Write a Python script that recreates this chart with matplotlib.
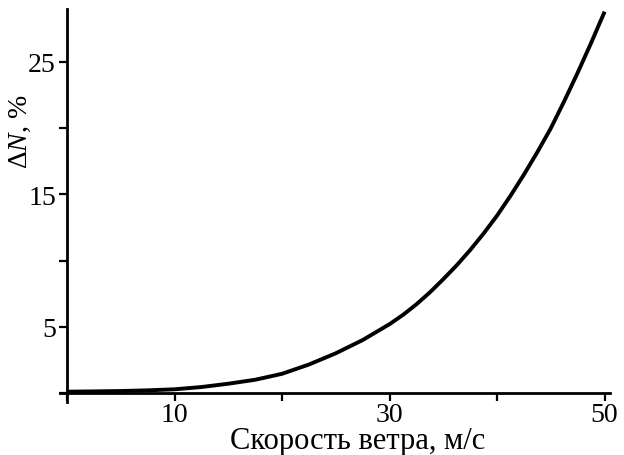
import matplotlib
matplotlib.use("Agg")
import matplotlib.pyplot as plt

# Data
wind_speed = [0, 2.5, 5, 7.5, 10, 12.5, 15, 17.5, 20, 22.5, 25, 27.5, 30,
              31.25, 32.5, 33.75, 35, 36.25, 37.5, 38.75, 40, 41.25, 42.5,
              43.75, 45, 46.25, 47.5, 48.75, 50]
delta_n = [0.1, 0.12, 0.15, 0.2, 0.28, 0.45, 0.7, 1.0, 1.45, 2.15, 3.0, 4.0, 5.2,
           5.9, 6.7, 7.6, 8.6, 9.65, 10.8, 12.05, 13.4, 14.9, 16.5,
           18.2, 20.0, 22.05, 24.2, 26.45, 28.8]

x_ticks = [0, 10, 20, 30, 40, 50]
x_ticklabels = ["", "10", "", "30", "", "50"]
y_ticks = [0, 5, 10, 15, 20, 25]
y_ticklabels = ["", "5", "", "15", "", "25"]

plt.rcParams['font.family'] = ['Liberation Serif', 'DejaVu Serif']
plt.rcParams['mathtext.fontset'] = 'custom'
plt.rcParams['mathtext.rm'] = 'Liberation Serif'
plt.rcParams['mathtext.it'] = 'Liberation Serif:italic'

fig = plt.figure(figsize=(6.24, 4.56), dpi=100)
ax = fig.add_axes([60/624, 53/456, 550/624, 393/456])

ax.plot(wind_speed, delta_n, color='black', lw=2.8, solid_joinstyle='round',
        solid_capstyle='butt')

ax.set_xlim(-0.65, 50.5)
ax.set_ylim(-0.68, 29.0)

for s in ['top', 'right']:
    ax.spines[s].set_visible(False)
ax.spines['left'].set_position(('data', 0))
ax.spines['bottom'].set_position(('data', 0))
for s in ['left', 'bottom']:
    ax.spines[s].set_linewidth(2.0)

ax.set_xticks(x_ticks)
ax.set_xticklabels(x_ticklabels)
ax.set_yticks(y_ticks)
ax.set_yticklabels(y_ticklabels)
ax.tick_params(axis='both', direction='out', length=6, width=1.6,
               labelsize=20, colors='black')
ax.tick_params(axis='x', pad=0.5)
ax.tick_params(axis='y', pad=2)

ax.set_xlabel("Скорость ветра, м/с", fontsize=22)
ax.xaxis.set_label_coords(0.542, -0.062)
ax.set_ylabel(r"$\Delta N$, %", fontsize=20)
ax.yaxis.set_label_coords(-0.049, 0.69)

fig.savefig("out.png", dpi=100)
